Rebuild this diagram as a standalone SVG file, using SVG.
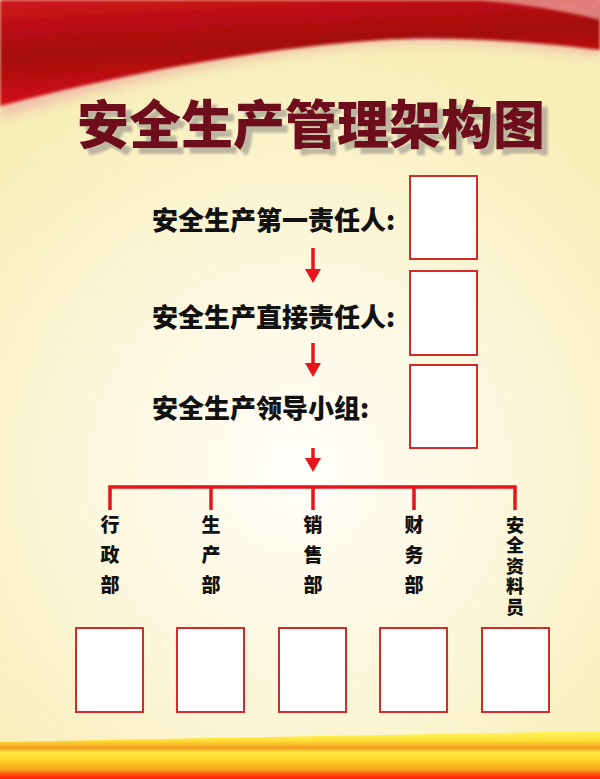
<svg xmlns="http://www.w3.org/2000/svg" width="600" height="779" viewBox="0 0 600 779">
<defs>
<radialGradient id="bg" cx="300" cy="470" r="430" gradientUnits="userSpaceOnUse">
<stop offset="0" stop-color="#fffefa"/>
<stop offset="0.45" stop-color="#fdf8df"/>
<stop offset="1" stop-color="#f7eeb8"/>
</radialGradient>
<linearGradient id="red" x1="0" y1="0" x2="0.3" y2="1">
<stop offset="0" stop-color="#d0161c"/>
<stop offset="0.5" stop-color="#a4080c"/>
<stop offset="1" stop-color="#dc121a"/>
</linearGradient>
<linearGradient id="gold" x1="0" y1="732" x2="0" y2="779" gradientUnits="userSpaceOnUse">
<stop offset="0" stop-color="#fff45e"/>
<stop offset="0.18" stop-color="#ffe036"/>
<stop offset="0.34" stop-color="#f39a1e"/>
<stop offset="0.44" stop-color="#ffe844"/>
<stop offset="0.62" stop-color="#ffd024"/>
<stop offset="0.8" stop-color="#f8a41e"/>
<stop offset="0.9" stop-color="#ff5210"/>
<stop offset="1" stop-color="#ff1a00"/>
</linearGradient>
<filter id="blur6" x="-10%" y="-30%" width="120%" height="160%"><feGaussianBlur stdDeviation="6"/></filter>
<filter id="blur2" x="-10%" y="-30%" width="120%" height="160%"><feGaussianBlur stdDeviation="1.5"/></filter>
<filter id="shadow" x="-5%" y="-20%" width="115%" height="150%">
<feOffset in="SourceAlpha" dx="6" dy="6" result="o"/>
<feGaussianBlur in="o" stdDeviation="1" result="b"/>
<feFlood flood-color="#a9a293" flood-opacity="0.75"/>
<feComposite in2="b" operator="in" result="s"/>
<feMerge><feMergeNode in="s"/><feMergeNode in="SourceGraphic"/></feMerge>
</filter>
<marker id="arr" viewBox="0 0 14 16" refX="10" refY="8" markerWidth="14" markerHeight="16" markerUnits="userSpaceOnUse" orient="auto">
<path d="M0,0 L14,8 L0,16 Z" fill="#e8131b"/>
</marker>
<style>
.row{font-family:"Noto Sans CJK SC","Noto Sans",sans-serif;font-weight:900;font-size:26px;fill:#111}
.dep{font-family:"Noto Sans CJK SC","Noto Sans",sans-serif;font-weight:900;font-size:19px;fill:#111;writing-mode:vertical-rl;letter-spacing:11px}
.dep2{font-size:18px;letter-spacing:2.5px}
.box{fill:#fff;stroke:#d62a2a;stroke-width:2}
.conn{stroke:#e8131b;stroke-width:3.5;fill:none}
.ttl{font-family:"Noto Sans CJK SC","Noto Sans",sans-serif;font-weight:900;font-size:52px;fill:#6e0d1c}
</style>
</defs>
<rect width="600" height="779" fill="url(#bg)"/>
<g id="top-band">
<path d="M0,0 H600 V56 C520,44 440,40 380,44 C260,52 120,82 0,118 Z" fill="#eaa0a0" opacity="0.6" filter="url(#blur6)"/>
<path d="M0,0 H600 V50 C520,40 440,36 380,40 C260,48 120,74 0,106 Z" fill="url(#red)" filter="url(#blur2)"/>
<path d="M480,0 H600 V20 C570,12 530,5 480,0 Z" fill="#f3b0a8" opacity="0.7" filter="url(#blur2)"/>
</g>
<g id="bottom-band">
<path d="M0,742 L600,731 V779 H0 Z" fill="url(#gold)"/>
</g>
<g id="title">
<text class="ttl" x="77" y="144" filter="url(#shadow)">安全生产管理架构图</text>
</g>
<g id="connectors">
<line class="conn" x1="313" y1="248" x2="313" y2="279" marker-end="url(#arr)"/>
<line class="conn" x1="313" y1="343" x2="313" y2="373" marker-end="url(#arr)"/>
<line class="conn" x1="313" y1="448" x2="313" y2="468" marker-end="url(#arr)"/>
<path class="conn" d="M110,510 V487 H515 V510 M211,487 V510 M313,487 V510 M414,487 V510"/>
</g>
<g id="node-first">
<text class="row" x="152" y="230">安全生产第一责任人:</text>
<rect class="box" x="410" y="176" width="67" height="83"/>
</g>
<g id="node-direct">
<text class="row" x="152" y="327">安全生产直接责任人:</text>
<rect class="box" x="410" y="271" width="67" height="84"/>
</g>
<g id="node-group">
<text class="row" x="152" y="418">安全生产领导小组:</text>
<rect class="box" x="410" y="365" width="67" height="83"/>
</g>
<g id="dept-admin">
<text class="dep" x="110" y="515">行政部</text>
<rect class="box" x="76" y="628" width="67" height="84"/>
</g>
<g id="dept-production">
<text class="dep" x="211" y="515">生产部</text>
<rect class="box" x="177" y="628" width="67" height="84"/>
</g>
<g id="dept-sales">
<text class="dep" x="313" y="515">销售部</text>
<rect class="box" x="279" y="628" width="67" height="84"/>
</g>
<g id="dept-finance">
<text class="dep" x="414" y="515">财务部</text>
<rect class="box" x="380" y="628" width="67" height="84"/>
</g>
<g id="dept-safety-records">
<text class="dep dep2" x="515" y="516">安全资料员</text>
<rect class="box" x="482" y="628" width="67" height="84"/>
</g>
</svg>
